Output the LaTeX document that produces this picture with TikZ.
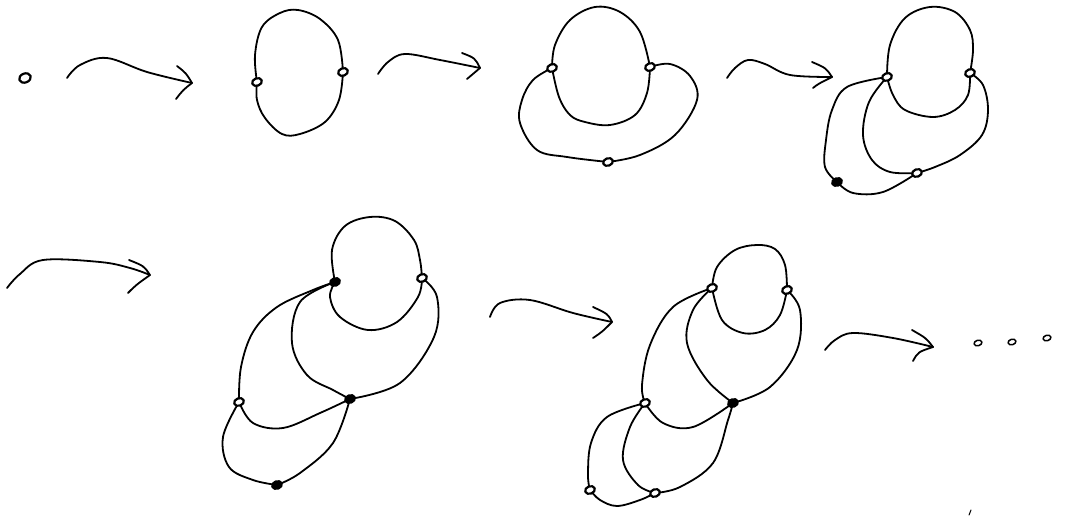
\documentclass[tikz,border=0pt]{standalone}
\usetikzlibrary{shapes.geometric}
\begin{document}
\begin{tikzpicture}[x=1pt,y=-1pt,line cap=round,line join=round,
  ink/.style={line width=1.8pt},
  pt/.style={ellipse,draw,line width=2.2pt,fill=white,minimum width=10pt,minimum height=7.5pt,inner sep=0pt,rotate=20},
  ptf/.style={pt,fill=black},
  dotx/.style={ellipse,draw,line width=1.5pt,minimum width=8pt,minimum height=5.5pt,inner sep=0pt,rotate=15}]
\useasboundingbox (0,0) rectangle (1074,516);

% ---------- vertex positions ----------
\coordinate (a1) at (25,78);
\coordinate (b2L) at (257,82);  \coordinate (b2R) at (343,72);
\coordinate (c3L) at (552,68);  \coordinate (c3R) at (650,67);  \coordinate (c3B) at (608,162);
\coordinate (d4L) at (887,77);  \coordinate (d4R) at (970,73);  \coordinate (d4M) at (917,173); \coordinate (d4O) at (837,182);
\coordinate (e5L) at (335,282); \coordinate (e5R) at (422,278); \coordinate (e5M) at (350,399);
\coordinate (e5B) at (239,402); \coordinate (e5D) at (277,485);
\coordinate (f6L) at (712,288); \coordinate (f6R) at (787,290); \coordinate (f6M) at (733,403);
\coordinate (f6B) at (645,403); \coordinate (f6D) at (655,493); \coordinate (f6E) at (590,490);

% ---------- panel 2 ----------
\draw[ink] plot[smooth,tension=0.6] coordinates {(b2L) (255,55) (262,27) (280,13) (298,10) (320,19) (338,40) (b2R)};
\draw[ink] plot[smooth,tension=0.6] coordinates {(b2R) (339,100) (325,122) (300,134) (282,134) (265,118) (257,100) (b2L)};

% ---------- panel 3 ----------
\draw[ink] plot[smooth,tension=0.6] coordinates {(c3L) (555,45) (570,20) (595,7) (620,12) (640,32) (c3R)};
\draw[ink] plot[smooth,tension=0.6] coordinates {(c3R) (647,93) (635,115) (610,125) (585,122) (570,115) (559,97) (c3L)};
\draw[ink] plot[smooth,tension=0.6] coordinates {(c3L) (533,80) (522,100) (520,123) (537,150) (567,157) (c3B)};
\draw[ink] plot[smooth,tension=0.6] coordinates {(c3B) (640,155) (675,135) (697,100) (690,76) (670,64) (c3R)};

% ---------- panel 4 ----------
\draw[ink] plot[smooth,tension=0.6] coordinates {(d4L) (890,45) (905,18) (930,7) (955,12) (970,30) (973,50) (d4R)};
\draw[ink] plot[smooth,tension=0.6] coordinates {(d4R) (968,95) (955,110) (933,117) (905,110) (893,95) (d4L)};
\draw[ink] plot[smooth,tension=0.6] coordinates {(d4L) (869,102) (863,135) (872,160) (890,172) (d4M)};
\draw[ink] plot[smooth,tension=0.6] coordinates {(d4R) (983,85) (988,110) (982,135) (960,155) (935,167) (d4M)};
\draw[ink] plot[smooth,tension=0.6] coordinates {(d4L) (847,87) (832,110) (826,140) (825,167) (d4O)};
\draw[ink] plot[smooth,tension=0.6] coordinates {(d4O) (853,193) (883,192) (d4M)};

% ---------- panel 5 ----------
\draw[ink] plot[smooth,tension=0.6] coordinates {(e5L) (332,250) (345,226) (370,217) (395,221) (414,240) (420,260) (e5R)};
\draw[ink] plot[smooth,tension=0.6] coordinates {(e5R) (418,297) (397,322) (368,330) (340,317) (330,297) (e5L)};
\draw[ink] plot[smooth,tension=0.6] coordinates {(e5R) (437,297) (434,337) (400,383) (e5M)};
\draw[ink] plot[smooth,tension=0.6] coordinates {(e5L) (300,302) (292,343) (307,375) (333,390) (e5M)};
\draw[ink] plot[smooth,tension=0.6] coordinates {(e5L) (313,290) (277,307) (253,332) (241,367) (e5B)};
\draw[ink] plot[smooth,tension=0.6] coordinates {(e5B) (253,423) (283,428) (320,413) (e5M)};
\draw[ink] plot[smooth,tension=0.6] coordinates {(e5B) (223,437) (229,467) (253,480) (e5D)};
\draw[ink] plot[smooth,tension=0.6] coordinates {(e5D) (300,473) (333,443) (e5M)};

% ---------- panel 6 ----------
\draw[ink] plot[smooth,tension=0.6] coordinates {(f6L) (717,267) (735,250) (757,245) (775,249) (785,265) (f6R)};
\draw[ink] plot[smooth,tension=0.6] coordinates {(f6R) (780,315) (765,330) (743,333) (722,320) (f6L)};
\draw[ink] plot[smooth,tension=0.6] coordinates {(f6R) (800,310) (797,350) (770,387) (f6M)};
\draw[ink] plot[smooth,tension=0.6] coordinates {(f6L) (693,310) (687,343) (707,380) (f6M)};
\draw[ink] plot[smooth,tension=0.6] coordinates {(f6L) (673,307) (650,345) (642,385) (f6B)};
\draw[ink] plot[smooth,tension=0.6] coordinates {(f6B) (663,423) (693,427) (f6M)};
\draw[ink] plot[smooth,tension=0.6] coordinates {(f6B) (630,427) (623,460) (638,485) (f6D)};
\draw[ink] plot[smooth,tension=0.6] coordinates {(f6M) (728,420) (713,463) (680,487) (f6D)};
\draw[ink] plot[smooth,tension=0.6] coordinates {(f6B) (607,417) (591,443) (588,475) (f6E)};
\draw[ink] plot[smooth,tension=0.6] coordinates {(f6E) (600,500) (617,506) (640,500) (f6D)};

% ---------- vertices ----------
\node[pt,minimum width=12pt,minimum height=9pt]  (n1)  at (a1) {};
\node[pt]  (n2L) at (b2L) {};  \node[pt] (n2R) at (b2R) {};
\node[pt]  (n3L) at (c3L) {};  \node[pt] (n3R) at (c3R) {};  \node[pt] (n3B) at (c3B) {};
\node[pt]  (n4L) at (d4L) {};  \node[pt] (n4R) at (d4R) {};  \node[pt] (n4M) at (d4M) {};  \node[ptf] (n4O) at (d4O) {};
\node[ptf] (n5L) at (e5L) {};  \node[pt] (n5R) at (e5R) {};  \node[ptf] (n5M) at (e5M) {};
\node[pt]  (n5B) at (e5B) {};  \node[ptf] (n5D) at (e5D) {};
\node[pt]  (n6L) at (f6L) {};  \node[pt] (n6R) at (f6R) {};  \node[ptf] (n6M) at (f6M) {};
\node[pt]  (n6B) at (f6B) {};  \node[pt] (n6D) at (f6D) {};  \node[pt] (n6E) at (f6E) {};

% ---------- arrows ----------
\coordinate (s1) at (67,78);   \coordinate (t1) at (192,83);
\draw[ink] plot[smooth,tension=0.6] coordinates {(s1) (80,65) (107,58) (147,72) (t1)};
\draw[ink] (177,66) .. controls (186,73) .. (t1) .. controls (183,90) .. (176,99);

\coordinate (s2) at (378,74);  \coordinate (t2) at (480,68);
\draw[ink] plot[smooth,tension=0.6] coordinates {(s2) (388,62) (405,54) (440,60) (t2)};
\draw[ink] (462,53) .. controls (475,58) .. (t2) .. controls (474,74) .. (467,79);

\coordinate (s3) at (727,78);  \coordinate (t3) at (832,77);
\draw[ink] plot[smooth,tension=0.6] coordinates {(s3) (735,68) (748,60) (765,64) (790,75) (t3)};
\draw[ink] (812,62) .. controls (826,68) .. (t3) .. controls (818,84) .. (813,88);

\coordinate (s4) at (7,288);   \coordinate (t4) at (150,275);
\draw[ink] plot[smooth,tension=0.6] coordinates {(s4) (20,274) (43,260) (100,262) (130,268) (t4)};
\draw[ink] (129,260) .. controls (144,266) .. (t4) .. controls (136,285) .. (128,293);

\coordinate (s5) at (490,317); \coordinate (t5) at (612,322);
\draw[ink] plot[smooth,tension=0.6] coordinates {(s5) (500,303) (530,300) (573,313) (t5)};
\draw[ink] (593,307) .. controls (608,314) .. (t5) .. controls (602,332) .. (593,338);

\coordinate (s6) at (825,350); \coordinate (t6) at (933,347);
\draw[ink] plot[smooth,tension=0.6] coordinates {(s6) (835,340) (853,333) (893,338) (t6)};
\draw[ink] (912,330) .. controls (926,338) .. (t6) .. controls (918,352) .. (913,361);

% ---------- dots ----------
\node[dotx] (o1) at (978,343) {};
\node[dotx] (o2) at (1012,342) {};
\node[dotx] (o3) at (1047,338) {};

% stray pen mark
\coordinate (m1) at (969,515); \coordinate (m2) at (971,510);
\draw[line width=1pt] (m1) -- (m2);
\end{tikzpicture}
\end{document}
